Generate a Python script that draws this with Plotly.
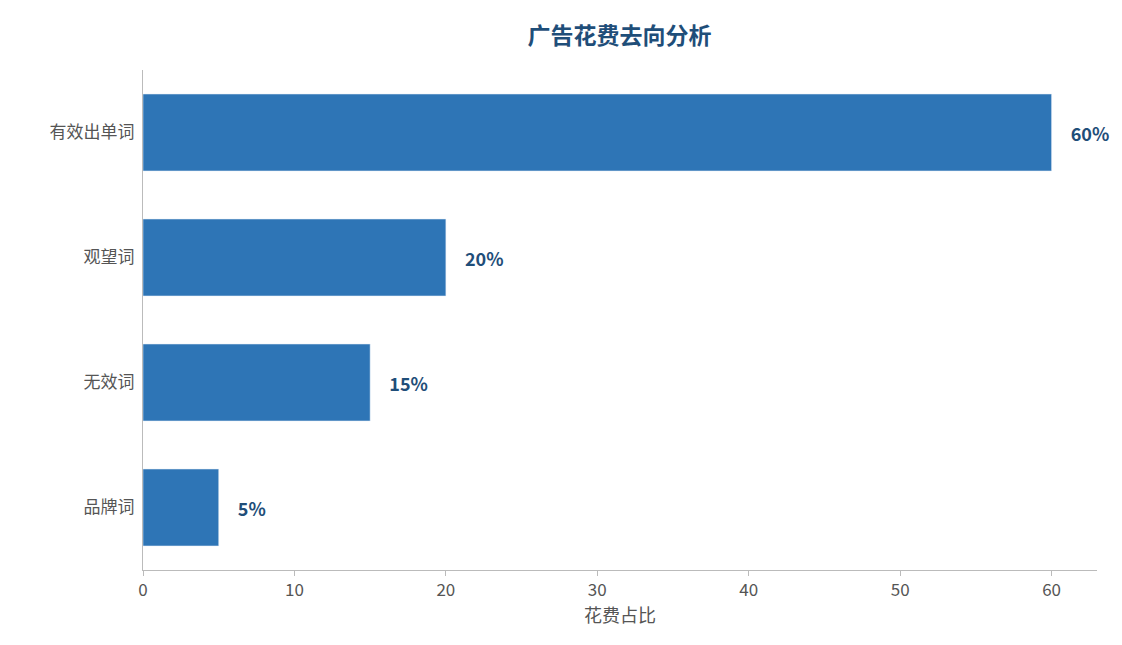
import plotly.graph_objects as go

categories = ["品牌词", "无效词", "观望词", "有效出单词"]
values = [5, 15, 20, 60]
labels = ["5%", "15%", "20%", "60%"]

fig = go.Figure(go.Bar(
    y=categories, x=values, orientation="h", width=0.615,
    marker_color="#2e75b6", text=labels, textposition="outside",
    textfont=dict(color="#1f4e79", size=18, family="Noto Sans CJK SC"),
    texttemplate="    <b>%{text}</b>", cliponaxis=False,
))
fig.update_layout(
    width=1122, height=645,
    margin=dict(l=135, r=33, t=62, b=83, autoexpand=False),
    plot_bgcolor="white", paper_bgcolor="white",
    font=dict(family="Noto Sans CJK SC", color="#555555", size=17),
    title=dict(text="<b>广告花费去向分析</b>", x=0.545, xanchor="center",
               y=1 - 28 / 645, yanchor="middle", yref="container",
               font=dict(size=23, color="#1f4e79")),
    showlegend=False,
)
fig.update_xaxes(range=[0, 63], showgrid=False, showline=True, linecolor="#bbbbbb",
                 ticks="outside", tickcolor="#bbbbbb", ticklen=5, dtick=10,
                 title=dict(text="花费占比", font=dict(size=18, color="#555555"), standoff=8),
                 zeroline=False, automargin=False)
fig.update_yaxes(range=[-0.5, 3.5], showgrid=False, showline=True, linecolor="#bbbbbb",
                 ticks="", ticklabelstandoff=4, automargin=False)
fig.write_html("out.html")
